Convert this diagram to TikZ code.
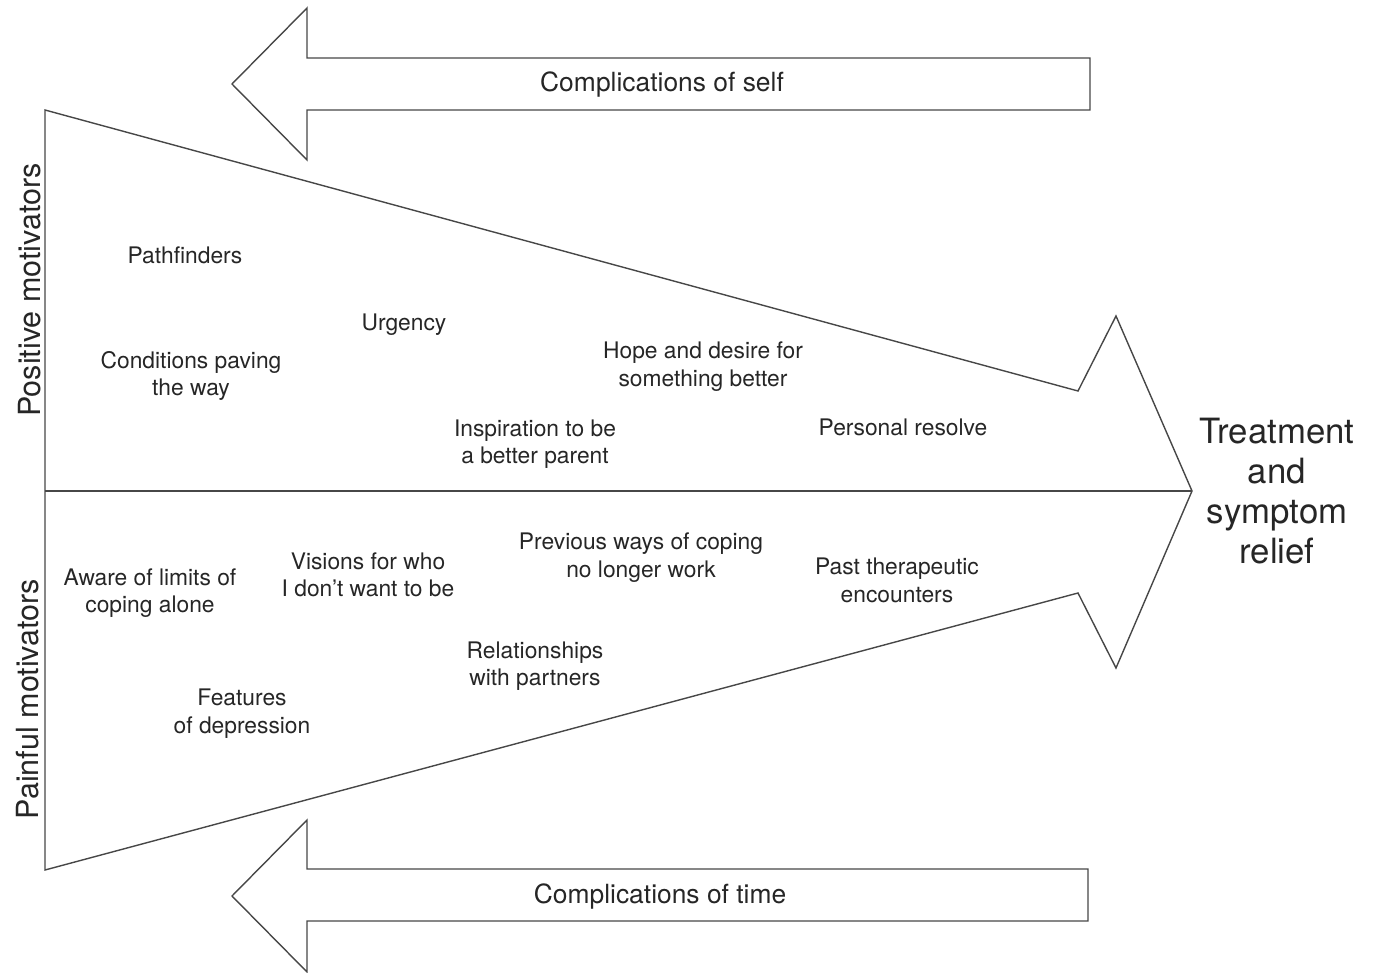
\documentclass[tikz,border=0pt]{standalone}
\usepackage{fontspec}
\setmainfont{TeX Gyre Heros}
\begin{document}
\begin{tikzpicture}[x=1pt,y=-1pt,
  outl/.style={draw=black!72,line width=1.4pt,line join=miter},
  lbl/.style={text=black!85,align=center,inner sep=0pt,font=\fontsize{22.8}{27.5}\selectfont},
  arrlbl/.style={text=black!85,inner sep=0pt,font=\fontsize{26.4}{30}\selectfont},
  side/.style={text=black!85,inner sep=0pt,rotate=90,font=\fontsize{30.5}{34}\selectfont},
  goal/.style={text=black!85,align=center,inner sep=0pt,font=\fontsize{34.8}{40}\selectfont}]
\useasboundingbox (0,0) rectangle (1375,973);
% top arrow
\draw[outl] (232,84) -- (307,8) -- (307,58) -- (1090,58) -- (1090,110) -- (307,110) -- (307,160) -- cycle;
\node[arrlbl] (cself) at (662,85) {Complications of self};
% bottom arrow
\draw[outl] (232,896) -- (307,820) -- (307,869) -- (1088,869) -- (1088,921) -- (307,921) -- (307,972) -- cycle;
\node[arrlbl] (ctime) at (660,897) {Complications of time};
% big arrow
\coordinate (tip) at (1192,491);
\coordinate (mid) at (45,491);
\draw[outl] (45,110) -- (1078,391) -- (1116,316) -- (tip) -- (1116,668) -- (1078,593) -- (45,870) -- cycle;
\draw[outl] (mid) -- (tip);
% side labels
\node[side] (pos) at (30,290) {Positive motivators};
\node[side] (pain) at (28,699) {Painful motivators};
% goal
\node[goal] (goal) at (1277,491) {Treatment\\and\\symptom\\relief};
% positive labels
\node[lbl] (path) at (185,255) {Pathfinders};
\node[lbl] (urg) at (404,325) {Urgency};
\node[lbl] (cond) at (191,376) {Conditions paving\\the way};
\node[lbl] (hope) at (703,366.5) {Hope and desire for\\something better};
\node[lbl] (insp) at (535,444) {Inspiration to be\\a better parent};
\node[lbl] (pers) at (903,427) {Personal resolve};
% painful labels
\node[lbl] (aware) at (150,593) {Aware of limits of\\coping alone};
\node[lbl] (vis) at (368,575) {Visions for who\\I don’t want to be};
\node[lbl] (prev) at (641,557.5) {Previous ways of coping\\no longer work};
\node[lbl] (past) at (897,580.5) {Past therapeutic\\encounters};
\node[lbl] (rel) at (535,666) {Relationships\\with partners};
\node[lbl] (feat) at (242,713.5) {Features\\of depression};
\end{tikzpicture}
\end{document}
